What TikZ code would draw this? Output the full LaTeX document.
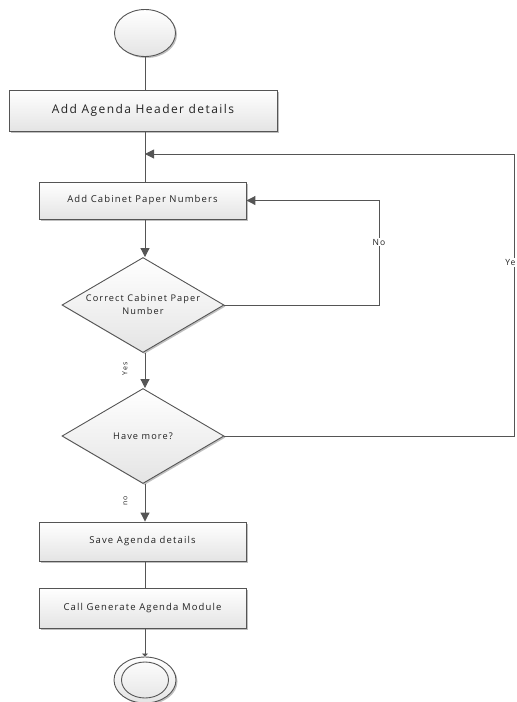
\documentclass[tikz,border=0pt]{standalone}
\usepackage{fontspec}
\setmainfont{Open Sans}[LetterSpace=12]
\usetikzlibrary{shapes.geometric,arrows.meta,shadows}

\definecolor{edge}{HTML}{555555}
\definecolor{ink}{HTML}{222222}
\definecolor{shade}{HTML}{E4E4E4}

\tikzset{
  flow/.style={draw=edge, line width=0.9pt, text=ink, top color=white, bottom color=shade,
    drop shadow={shadow xshift=1.5pt, shadow yshift=-1.5pt, opacity=0.25, fill=black}},
  actbox/.style={flow, rectangle, inner sep=0pt, font=\fontsize{9.5}{12}\selectfont},
  decide/.style={flow, diamond, inner sep=0pt, aspect=1.7, minimum width=162pt,
    minimum height=95pt, align=center, font=\fontsize{9.2}{13}\selectfont},
  terminal/.style={flow, ellipse, inner sep=0pt},
  wire/.style={draw=edge, line width=1pt},
  arrowwire/.style={wire, -{Triangle[length=9pt,width=9pt]}},
  lbl/.style={fill=white, inner sep=1pt, text=ink, font=\fontsize{8.5}{10}\selectfont},
  sidelbl/.style={text=ink, inner sep=0pt, rotate=90, font=\fontsize{7}{8}\selectfont},
}

\begin{document}
\begin{tikzpicture}[x=1pt, y=-1pt]
\useasboundingbox (0,0) rectangle (517,702);

% start and stop
\node[terminal, minimum width=61pt, minimum height=47pt] (start) at (145,33) {};
\node[terminal, minimum width=62pt, minimum height=46pt] (stop) at (145,680) {};
\node[draw=edge, line width=0.9pt, ellipse, inner sep=0pt, minimum width=47pt,
  minimum height=36pt] (stopin) at (145,680) {};

% activities
\node[actbox, minimum width=268pt, minimum height=41pt, font=\fontsize{12}{14}\selectfont]
  (header) at (143,110.5) {Add Agenda Header details};
\node[actbox, minimum width=207pt, minimum height=37pt] (cab) at (142.5,200.5) {Add Cabinet Paper Numbers};
\node[actbox, minimum width=207pt, minimum height=39pt] (save) at (142.5,541.5) {Save Agenda details};
\node[actbox, minimum width=207pt, minimum height=40pt] (call) at (142.5,608) {Call Generate Agenda Module};

% decisions
\node[decide] (chk) at (143,305) {Correct Cabinet Paper\\Number};
\node[decide] (more) at (143,436) {Have more?};

% loop corners and trunk points
\coordinate (trunk) at (145,0);
\coordinate (join) at (145,154);
\coordinate (noR) at (379,305);
\coordinate (noT) at (379,200.5);
\coordinate (yeR) at (514,436);
\coordinate (yeT) at (514,154);

% main flow
\draw[wire] (start.south) -- (trunk |- header.north);
\draw[wire] (trunk |- header.south) -- (trunk |- cab.north);
\draw[arrowwire] (trunk |- cab.south) -- (trunk |- chk.north);
\draw[arrowwire] (trunk |- chk.south) -- node[pos=0.45, sidelbl, anchor=south, yshift=17pt]{Yes} (trunk |- more.north);
\draw[arrowwire] (trunk |- more.south) -- node[pos=0.45, sidelbl, anchor=south, yshift=17pt]{no} (trunk |- save.north);
\draw[wire] (trunk |- save.south) -- (trunk |- call.north);
\draw[wire, -{Triangle[length=3pt,width=6pt]}] (trunk |- call.south) -- (stop.north);

% loops back
\draw[arrowwire] (chk.east) -- (noR) -- node[pos=0.6, lbl]{No} (noT) -- (cab.east);
\draw[arrowwire] (more.east) -- (yeR) -- node[pos=0.615, lbl, anchor=east, xshift=3pt]{Ye} (yeT) -- (join);
\end{tikzpicture}
\end{document}
